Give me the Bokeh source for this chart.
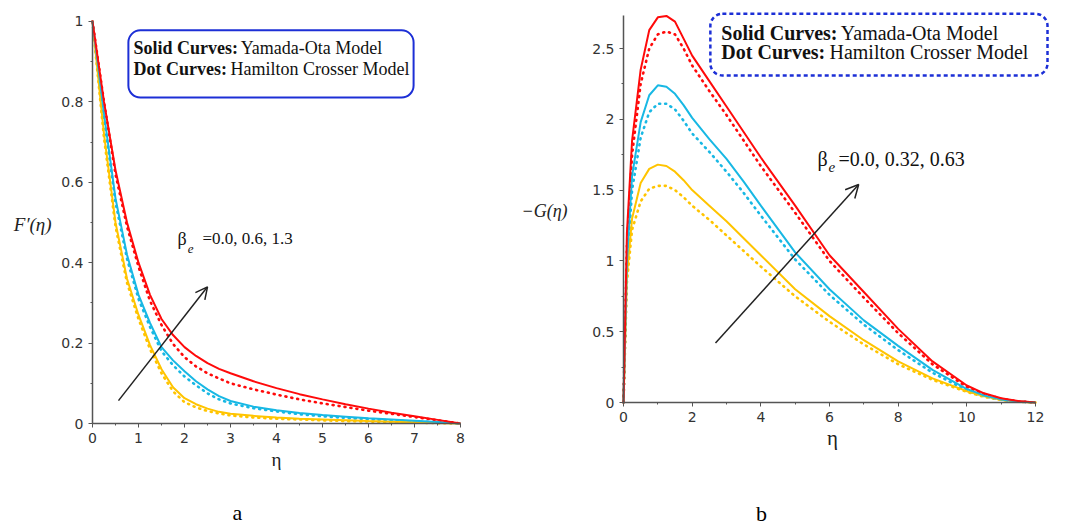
from bokeh.plotting import figure
from bokeh.layouts import row
from bokeh.models import (Range1d, FixedTicker, Label, Arrow, OpenHead, BoxAnnotation)
from bokeh.embed import file_html
from bokeh.resources import INLINE

# ---------------- data: panel a  F'(eta) ----------------
eta_a = [0, 0.25, 0.5, 0.75, 1, 1.25, 1.5, 1.75, 2, 2.25, 2.5, 2.75, 3, 3.5, 4, 4.5, 5, 5.5, 6, 6.5, 7, 7.5, 8]
fa_red_solid = [1, 0.80, 0.63, 0.50, 0.40, 0.32, 0.26, 0.22, 0.19, 0.168, 0.15, 0.136, 0.125, 0.105, 0.088, 0.073, 0.06, 0.048, 0.037, 0.027, 0.018, 0.009, 0]
fa_red_dot   = [1, 0.80, 0.62, 0.49, 0.39, 0.305, 0.245, 0.198, 0.165, 0.142, 0.125, 0.112, 0.10, 0.085, 0.072, 0.06, 0.05, 0.041, 0.032, 0.024, 0.016, 0.008, 0]
fa_cyan_solid = [1, 0.77, 0.56, 0.42, 0.32, 0.25, 0.19, 0.157, 0.13, 0.105, 0.085, 0.068, 0.056, 0.042, 0.033, 0.026, 0.021, 0.017, 0.013, 0.01, 0.007, 0.004, 0]
fa_cyan_dot   = [1, 0.76, 0.55, 0.41, 0.31, 0.24, 0.18, 0.145, 0.117, 0.095, 0.075, 0.06, 0.05, 0.038, 0.03, 0.023, 0.018, 0.014, 0.011, 0.008, 0.005, 0.003, 0]
fa_yel_solid = [1, 0.72, 0.50, 0.36, 0.27, 0.195, 0.135, 0.09, 0.063, 0.048, 0.037, 0.029, 0.024, 0.019, 0.015, 0.012, 0.01, 0.008, 0.006, 0.0045, 0.003, 0.0015, 0]
fa_yel_dot   = [1, 0.71, 0.49, 0.35, 0.26, 0.185, 0.125, 0.08, 0.053, 0.04, 0.031, 0.025, 0.02, 0.015, 0.012, 0.01, 0.008, 0.006, 0.005, 0.0035, 0.002, 0.001, 0]

xticks_a = [0, 1, 2, 3, 4, 5, 6, 7, 8]
yticks_a = [0, 0.2, 0.4, 0.6, 0.8, 1.0]
ytick_labels_a = ["0", "0.2", "0.4", "0.6", "0.8", "1"]

# ---------------- data: panel b  -G(eta) ----------------
eta_b = [0, 0.1, 0.25, 0.5, 0.75, 1, 1.25, 1.5, 1.75, 2, 2.5, 3, 3.5, 4, 5, 6, 7, 8, 9, 10, 10.5, 11, 11.5, 12]
gb_red_solid = [0, 1.2, 1.85, 2.35, 2.63, 2.72, 2.73, 2.69, 2.57, 2.45, 2.27, 2.09, 1.91, 1.73, 1.39, 1.04, 0.78, 0.52, 0.29, 0.12, 0.065, 0.03, 0.01, 0]
gb_red_dot   = [0, 1.1, 1.75, 2.25, 2.50, 2.60, 2.62, 2.60, 2.50, 2.38, 2.20, 2.03, 1.85, 1.67, 1.34, 1.00, 0.74, 0.49, 0.27, 0.11, 0.06, 0.027, 0.008, 0]
gb_cyan_solid = [0, 1.0, 1.6, 1.98, 2.17, 2.24, 2.23, 2.18, 2.10, 2.01, 1.86, 1.72, 1.56, 1.39, 1.06, 0.80, 0.58, 0.40, 0.23, 0.095, 0.05, 0.022, 0.007, 0]
gb_cyan_dot   = [0, 0.95, 1.5, 1.87, 2.05, 2.11, 2.11, 2.07, 1.99, 1.90, 1.77, 1.63, 1.48, 1.32, 1.01, 0.76, 0.55, 0.37, 0.21, 0.085, 0.045, 0.02, 0.006, 0]
gb_yel_solid = [0, 0.9, 1.3, 1.55, 1.65, 1.68, 1.67, 1.63, 1.57, 1.50, 1.39, 1.28, 1.16, 1.04, 0.80, 0.61, 0.44, 0.29, 0.17, 0.08, 0.045, 0.02, 0.006, 0]
gb_yel_dot   = [0, 0.85, 1.22, 1.42, 1.51, 1.53, 1.53, 1.50, 1.45, 1.39, 1.29, 1.18, 1.07, 0.96, 0.75, 0.57, 0.41, 0.27, 0.16, 0.075, 0.04, 0.018, 0.005, 0]

xticks_b = [0, 2, 4, 6, 8, 10, 12]
yticks_b = [0, 0.5, 1.0, 1.5, 2.0, 2.5]
ytick_labels_b = ["0", "0.5", "1", "1.5", "2", "2.5"]

RED = "#ff0a0a"
CYAN = "#18b8e4"
YEL = "#ffc400"
BLUE = "#1c2fd6"
AXIS = "#555555"
TICKTXT = "#333333"


def make_fig(width, xr, yr):
    p = figure(width=width, height=526, x_range=Range1d(*xr), y_range=Range1d(*yr),
               output_backend="svg", toolbar_location=None,
               min_border=0, min_border_left=0, min_border_right=0,
               min_border_top=0, min_border_bottom=0)
    p.xgrid.visible = False
    p.ygrid.visible = False
    p.outline_line_color = None
    return p


def style(p, xticks, xminor, xbounds, yticks, yminor, ylabels, ybounds):
    for ax in (p.xaxis[0], p.yaxis[0]):
        ax.fixed_location = 0
        ax.axis_line_color = AXIS
        ax.axis_line_width = 1.5
        ax.major_tick_line_color = AXIS
        ax.minor_tick_line_color = AXIS
        ax.major_tick_in = 0
        ax.major_tick_out = 4
        ax.minor_tick_in = 0
        ax.minor_tick_out = 2
        ax.major_label_text_font = "DejaVu Sans"
        ax.major_label_text_font_size = "14px"
        ax.major_label_text_color = TICKTXT
        ax.major_label_standoff = 5
    p.xaxis[0].bounds = xbounds
    p.yaxis[0].bounds = ybounds
    p.xaxis[0].ticker = FixedTicker(ticks=xticks, minor_ticks=xminor)
    p.yaxis[0].ticker = FixedTicker(ticks=yticks, minor_ticks=yminor)
    p.yaxis[0].major_label_overrides = {t: l for t, l in zip(yticks, ylabels)}


def curves(p, x, series):
    for ys, col, dotted in series:
        if dotted:
            p.line(x, ys, line_color=col, line_width=2.6, line_dash="1 5", line_cap="round")
        else:
            p.line(x, ys, line_color=col, line_width=2)


def lab(p, x, y, text, size, font="Liberation Serif", style_="normal", align="left", color="#111111"):
    p.add_layout(Label(x=x, y=y, text=text, text_font=font, text_font_size=size,
                       text_font_style=style_, text_align=align, text_baseline="middle",
                       text_color=color))


# ---------------- panel a ----------------
p1 = make_fig(520, (-2.0, 9.304), (-0.2562, 1.0522))
style(p1, xticks_a, [0.5 + i for i in range(8)], (0, 8),
      yticks_a, [0.1 + 0.2 * i for i in range(5)], ytick_labels_a, (0, 1))
curves(p1, eta_a, [
    (fa_yel_dot, YEL, True), (fa_cyan_dot, CYAN, True), (fa_red_dot, RED, True),
    (fa_yel_solid, YEL, False), (fa_cyan_solid, CYAN, False), (fa_red_solid, RED, False),
])
p1.add_layout(BoxAnnotation(left=0.78, right=6.98, top=0.978, bottom=0.811, fill_alpha=0,
                            line_color=BLUE, line_alpha=1, line_width=2, border_radius=12))
lab(p1, 0.89, 0.935, "Solid Curves:", "18px", style_="bold")
lab(p1, 3.22, 0.935, "Yamada-Ota Model", "18px")
lab(p1, 0.89, 0.883, "Dot Curves:", "18px", style_="bold")
lab(p1, 3.00, 0.883, "Hamilton Crosser Model", "18px")
lab(p1, 1.85, 0.46, "β", "18px")
lab(p1, 2.07, 0.435, "e", "13px", style_="italic")
lab(p1, 2.39, 0.46, "=0.0, 0.6, 1.3", "17px")
p1.add_layout(Arrow(end=OpenHead(size=12, line_width=1.5, line_color="#222222"),
                    x_start=0.565, y_start=0.057, x_end=2.5, y_end=0.34,
                    line_width=1.5, line_color="#222222"))
lab(p1, -1.30, 0.495, "F′(η)", "19px", style_="italic", align="center", color="#222222")
lab(p1, 4.0, -0.0896, "η", "19px", align="center", color="#222222")
lab(p1, 3.152, -0.2214, "a", "22px", align="center", color="#000000")

# ---------------- panel b ----------------
p2 = make_fig(553, (-3.0, 13.107), (-0.8757, 2.839))
style(p2, xticks_b, [1 + 2 * i for i in range(6)], (0, 12),
      yticks_b, [0.25 + 0.5 * i for i in range(5)], ytick_labels_b, (0, 2.733))
curves(p2, eta_b, [
    (gb_yel_dot, YEL, True), (gb_cyan_dot, CYAN, True), (gb_red_dot, RED, True),
    (gb_yel_solid, YEL, False), (gb_cyan_solid, CYAN, False), (gb_red_solid, RED, False),
])
p2.add_layout(BoxAnnotation(left=2.53, right=12.35, top=2.745, bottom=2.31, fill_alpha=0,
                            line_color=BLUE, line_alpha=1, line_width=2.5, line_dash="4 3",
                            border_radius=12))
lab(p2, 2.85, 2.613, "Solid Curves:", "20px", style_="bold")
lab(p2, 6.33, 2.613, "Yamada-Ota Model", "20px")
lab(p2, 2.85, 2.472, "Dot Curves:", "20px", style_="bold")
lab(p2, 6.00, 2.472, "Hamilton Crosser Model", "20px")
lab(p2, 5.65, 1.72, "β", "20px")
lab(p2, 5.97, 1.66, "e", "15px", style_="italic")
lab(p2, 6.26, 1.72, "=0.0, 0.32, 0.63", "20px")
p2.add_layout(Arrow(end=OpenHead(size=13, line_width=1.5, line_color="#222222"),
                    x_start=2.68, y_start=0.42, x_end=6.85, y_end=1.54,
                    line_width=1.5, line_color="#222222"))
lab(p2, -2.30, 1.349, "−G(η)", "18px", style_="italic", align="center", color="#222222")
lab(p2, 6.087, -0.254, "η", "21px", align="center", color="#222222")
lab(p2, 4.019, -0.784, "b", "22px", align="center", color="#000000")

layout = row(p1, p2)
open("out.html", "w").write(file_html(layout, INLINE))
